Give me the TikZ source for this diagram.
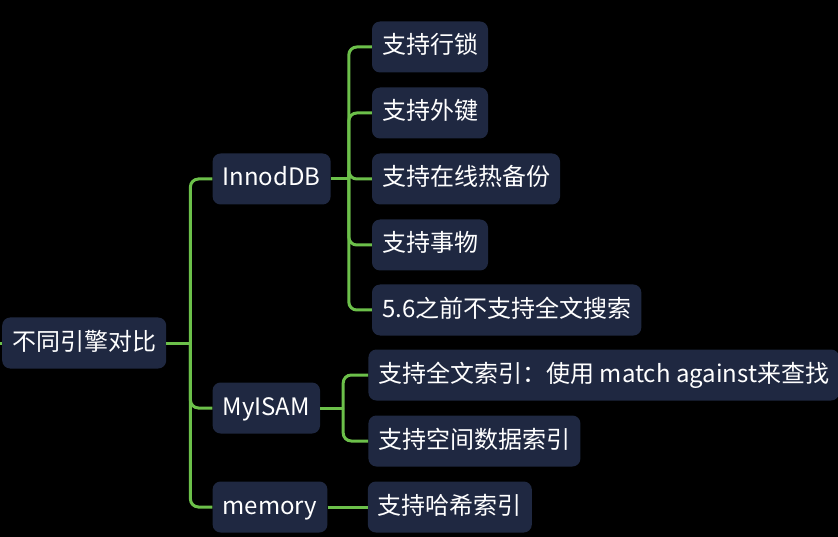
\documentclass[tikz,border=0pt]{standalone}
\usepackage{fontspec}
\setmainfont{Noto Sans CJK SC}
\usetikzlibrary{positioning}
\definecolor{boxfill}{HTML}{1F2841}
\definecolor{linkgreen}{HTML}{6CC04A}
\tikzset{
    x=1pt, y=-1pt,
    topic/.style={
        draw=none,
        fill=boxfill,
        text=white,
        rounded corners=8pt,
        minimum height=51pt,
        inner xsep=10pt,
        inner ysep=0pt,
        text height=19pt,
        text depth=5pt,
        font=\fontsize{24}{28}\selectfont
    },
    link/.style={
        draw=linkgreen,
        line width=3pt,
        rounded corners=8pt
    }
}
\begin{document}
\begin{tikzpicture}
    \fill[black] (0,0) rectangle (838,537);
    \useasboundingbox (0,0) rectangle (838,537);

    \node[topic, anchor=west] (root) at (2,343) {不同引擎对比};
    \coordinate (stub) at (0,343);

    \node[topic, right=46pt of root, yshift=164pt] (innodb) {InnodDB};
    \node[topic, right=46pt of root, yshift=-65pt] (myisam) {MyISAM};
    \node[topic, right=46pt of root, yshift=-164pt] (memory) {memory};

    \node[topic, right=41pt of innodb, yshift=132pt] (rowlock) {支持行锁};
    \node[topic, right=41pt of innodb, yshift=66pt] (fkey) {支持外键};
    \node[topic, right=41pt of innodb] (hotbak) {支持在线热备份};
    \node[topic, right=41pt of innodb, yshift=-66pt] (trans) {支持事物};
    \node[topic, right=41pt of innodb, yshift=-131pt] (nofts) {5.6之前不支持全文搜索};

    \node[topic, right=48pt of myisam, yshift=33pt] (fts) {支持全文索引：使用 match against来查找};
    \node[topic, right=48pt of myisam, yshift=-33pt] (spatial) {支持空间数据索引};

    \node[topic, right=40pt of memory] (hash) {支持哈希索引};

    % hubs where the branches split
    \coordinate[right=24pt of root] (roothub);
    \coordinate[right=18pt of innodb] (innodbhub);
    \coordinate[right=23pt of myisam] (myisamhub);

    \draw[link] (stub) -- (root.west);
    \draw[link] (root.east) -- (roothub);
    \foreach \c in {innodb, myisam, memory}
        \draw[link] (roothub) |- (\c.west);
    \draw[link] (innodb.east) -- (innodbhub);
    \foreach \c in {rowlock, fkey, hotbak, trans, nofts}
        \draw[link] (innodbhub) |- (\c.west);
    \draw[link] (myisam.east) -- (myisamhub);
    \foreach \c in {fts, spatial}
        \draw[link] (myisamhub) |- (\c.west);
    \draw[link] (memory.east) -- (hash.west);
\end{tikzpicture}
\end{document}
